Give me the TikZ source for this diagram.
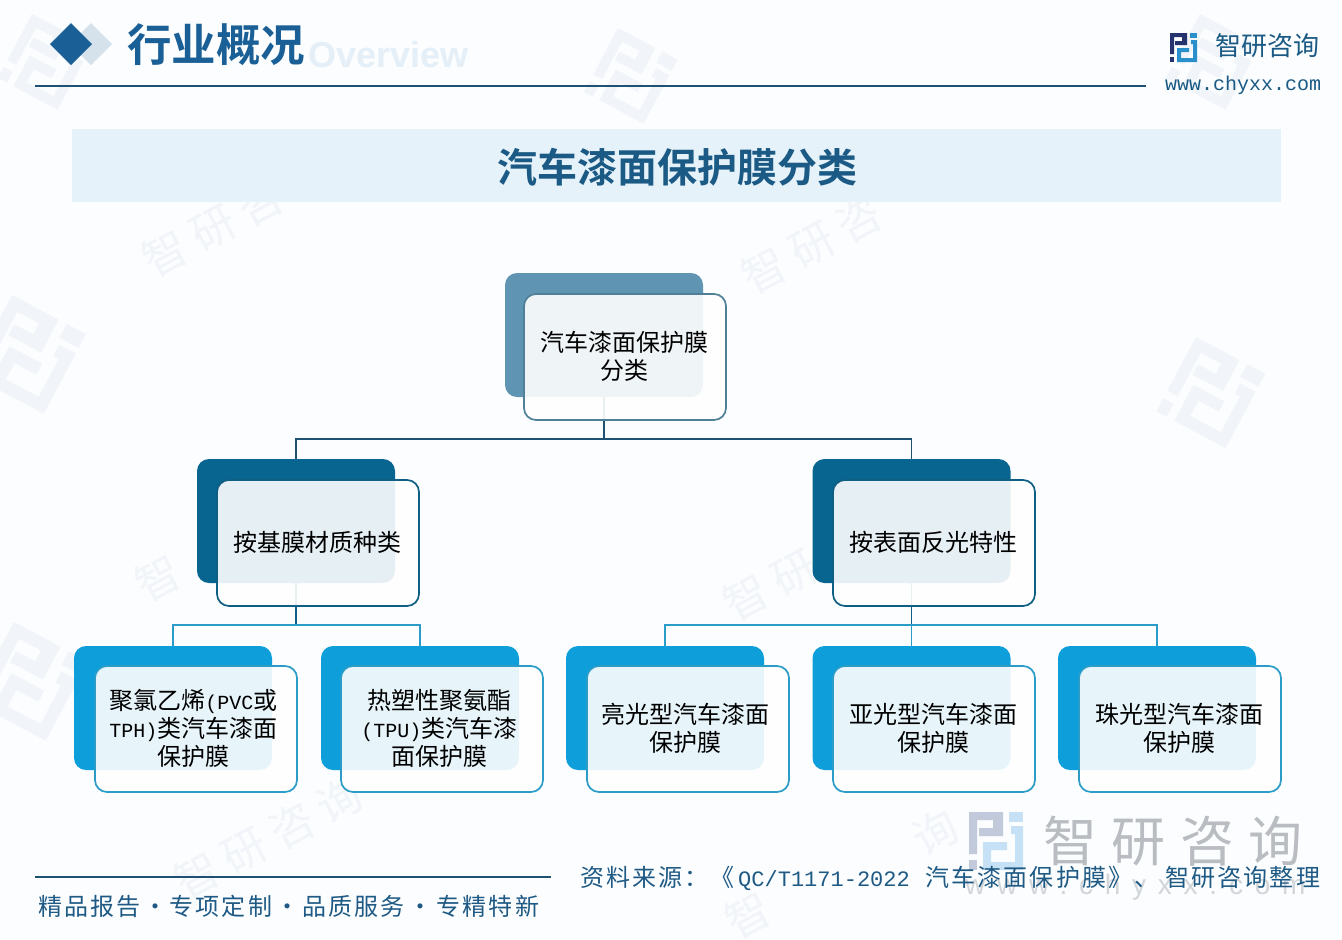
\documentclass[tikz,border=0pt]{standalone}
\usepackage{fontspec}
\setmainfont{Noto Sans CJK SC}
\newfontfamily\cjkbold[BoldFont={Noto Sans CJK SC Bold}]{Noto Sans CJK SC}
\newfontfamily\cjkspaced[LetterSpace=9]{Noto Sans CJK SC}
\newfontfamily\cjkslogan[LetterSpace=9]{Noto Sans CJK SC}
\newfontfamily\cjkwide[LetterSpace=27]{Noto Sans CJK SC}
\newfontfamily\cjkwm[LetterSpace=22]{Noto Sans CJK SC}
\newfontfamily\monofont{Liberation Mono}
\newfontfamily\urlwide[LetterSpace=42]{Liberation Sans}
\newfontfamily\ovfont{Liberation Sans}
\newcommand{\lat}[1]{{\monofont\fontsize{20pt}{28pt}\selectfont #1}}
\definecolor{bgc}{HTML}{FBFDFE}
\definecolor{wm}{HTML}{F1F4F8}
\definecolor{band}{HTML}{E6F2FA}
\definecolor{ovc}{HTML}{E4EFF8}
\definecolor{linec}{HTML}{1F5272}
\definecolor{titlec}{HTML}{1A6096}
\definecolor{heading}{HTML}{1A5A84}
\definecolor{rootback}{HTML}{5F94B3}
\definecolor{rootline}{HTML}{4F8098}
\definecolor{midback}{HTML}{07658F}
\definecolor{midline}{HTML}{0F5F85}
\definecolor{leafback}{HTML}{0E9FDA}
\definecolor{leafline}{HTML}{2A9CC7}
\definecolor{foot}{HTML}{1F5A85}
\definecolor{logodark}{HTML}{26336E}
\definecolor{logoblue}{HTML}{2A8FCB}
\definecolor{bigdark}{HTML}{C2C9DA}
\definecolor{bigblue}{HTML}{C6E0F5}
\definecolor{bigtext}{HTML}{B9BDC2}
\definecolor{urlgrey}{HTML}{D2D6DA}
\definecolor{diamondlight}{HTML}{D5E1EB}
\tikzset{
 x=1pt,y=-1pt,
 backbox/.style={minimum width=198pt,minimum height=124pt,rounded corners=12pt,inner sep=0pt},
 frontbox/.style={minimum width=202pt,minimum height=126pt,rounded corners=12pt,fill=white,fill opacity=.9,line width=1.7pt,inner sep=0pt},
 boxtext/.style={align=center,inner sep=0pt,font=\fontsize{24pt}{28pt}\selectfont,text=black},
 conn/.style={line width=1.5pt},
 wmark/.style={text=wm,font=\cjkwm\fontsize{44pt}{44pt}\selectfont,rotate=28,inner sep=0pt},
}
\newcommand{\logodarkpart}[5]{%
 \begin{scope}[shift={(#1,#2)},scale=#3,rotate=#4]
 \fill[#5] (0,0) -- (17,0) -- (17,12) -- (5,12) -- (5,8) -- (12,8) -- (12,4) -- (4,4) -- (4,21) -- (0,21) -- cycle;
 \fill[#5] (0,24) rectangle (4,29);
 \end{scope}}
\newcommand{\logobluepart}[5]{%
 \begin{scope}[shift={(#1,#2)},scale=#3,rotate=#4]
 \fill[#5] (20,0) rectangle (27,5);
 \fill[#5] (21,7) -- (27,7) -- (27,29) -- (7,29) -- (7,15) -- (19,15) -- (19,19) -- (11,19) -- (11,25) -- (23,25) -- (23,11) -- (21,11) -- cycle;
 \end{scope}}
\newcommand{\wmlogo}[3]{\logodarkpart{#1}{#2}{#3}{-28}{wm}\logobluepart{#1}{#2}{#3}{-28}{wm}}
\begin{document}
\begin{tikzpicture}
\useasboundingbox (0,0) rectangle (1342,940);
\fill[bgc] (0,0) rectangle (1342,940);
% watermarks
\node[wmark] (w1) at (213,228) {智研咨};
\node[wmark] (w2) at (812,245) {智研咨};
\node[wmark] (w3) at (158,578) {智};
\node[wmark] (w4) at (770,585) {智研};
\node[wmark] (w5) at (268,838) {智研咨询};
\node[wmark] (w6) at (935,832) {询};
\node[wmark] (w7) at (748,915) {智};
\wmlogo{12}{295}{3.1}
\wmlogo{14}{622}{3.1}
\wmlogo{1196}{337}{2.9}
\wmlogo{618}{28}{2.5}
\wmlogo{32}{14}{2.5}
\wmlogo{1200}{14}{2.5}
% header
\fill[diamondlight] (91,23) -- (112,44) -- (91,65) -- (70,44) -- cycle;
\fill[titlec] (71,23) -- (92,44) -- (71,65) -- (50,44) -- cycle;
\node[text=ovc,font=\ovfont\bfseries\fontsize{36pt}{36pt}\selectfont,anchor=west,inner sep=0pt] (ov) at (308,55) {Overview};
\node[text=titlec,font=\cjkbold\bfseries\fontsize{44.5pt}{44pt}\selectfont,anchor=west,inner sep=0pt] (htitle) at (127,45) {行业概况};
\coordinate (hl) at (35,86); \coordinate (hr) at (1146,86);
\draw[linec,line width=1.5pt] (hl) -- (hr);
\logodarkpart{1170}{33}{1}{0}{logodark}
\logobluepart{1170}{33}{1}{0}{logoblue}
\node[text=heading,font=\fontsize{26pt}{26pt}\selectfont,anchor=west,inner sep=0pt] (brand) at (1215,46) {智研咨询};
\node[text=heading,font=\monofont\fontsize{20pt}{20pt}\selectfont,anchor=west,inner sep=0pt] (web) at (1165,85) {www.chyxx.com};
% band
\node[fill=band,minimum width=1209pt,minimum height=73pt,inner sep=0pt] (bandbox) at (676.5,165) {};
\node[inner sep=0pt,text=heading,font=\cjkbold\bfseries\fontsize{40pt}{40pt}\selectfont] (bandtext) at (677.5,167) {汽车漆面保护膜分类};
% back boxes
\node[backbox,fill=rootback] (rb) at (604,335) {};
\node[backbox,fill=midback] (mlb) at (296,521) {};
\node[backbox,fill=midback] (mrb) at (911.5,521) {};
\node[backbox,fill=leafback] (l1b) at (173,708) {};
\node[backbox,fill=leafback] (l2b) at (420,708) {};
\node[backbox,fill=leafback] (l3b) at (665,708) {};
\node[backbox,fill=leafback] (l4b) at (911.5,708) {};
\node[backbox,fill=leafback] (l5b) at (1157,708) {};
% connectors
\coordinate (t1) at (604,439);
\coordinate (t2) at (296,625);
\coordinate (t3) at (911.5,625);
\draw[conn,linec] (rb.south) -- (t1);
\draw[conn,linec] (mlb.north) |- (t1) -| (mrb.north);
\draw[conn,midline] (mlb.south) -- (t2);
\draw[conn,midline] (mrb.south) -- (t3);
\draw[conn,leafline] (l1b.north) |- (t2) -| (l2b.north);
\draw[conn,leafline] (l3b.north) |- (t3) -| (l5b.north);
\draw[conn,leafline] (t3) -- (l4b.north);
% front boxes
\node[frontbox,draw=rootline] (root) at (625,357) {};
\node[frontbox,draw=midline] (ml) at (318,543) {};
\node[frontbox,draw=midline] (mr) at (934,543) {};
\node[frontbox,draw=leafline] (l1) at (196,729) {};
\node[frontbox,draw=leafline] (l2) at (442,729) {};
\node[frontbox,draw=leafline] (l3) at (688,729) {};
\node[frontbox,draw=leafline] (l4) at (934,729) {};
\node[frontbox,draw=leafline] (l5) at (1180,729) {};
% box texts
\node[boxtext] (roott) at (624.5,356) {汽车漆面保护膜\\分类};
\node[boxtext] (mlt) at (317,542) {按基膜材质种类};
\node[boxtext] (mrt) at (933,542) {按表面反光特性};
\node[boxtext] (l1t) at (193.5,728) {聚氯乙烯\lat{(PVC}或\\\lat{TPH)}类汽车漆面\\保护膜};
\node[boxtext] (l2t) at (439.5,728) {热塑性聚氨酯\\\lat{(TPU)}类汽车漆\\面保护膜};
\node[boxtext] (l3t) at (685.5,728) {亮光型汽车漆面\\保护膜};
\node[boxtext] (l4t) at (933,728) {亚光型汽车漆面\\保护膜};
\node[boxtext] (l5t) at (1179,728) {珠光型汽车漆面\\保护膜};
% footer
\logodarkpart{969}{812}{2}{0}{bigdark}
\logobluepart{969}{812}{2}{0}{bigblue}
\node[text=bigtext,font=\cjkwide\fontsize{54pt}{54pt}\selectfont,anchor=west,inner sep=0pt] (bigbrand) at (1043,841) {智研咨询};
\node[text=urlgrey,font=\urlwide\fontsize{28pt}{28pt}\selectfont,anchor=west,inner sep=0pt] (bigurl) at (965,887) {www.chyxx.com};
\coordinate (fl) at (35,877); \coordinate (fr) at (551,877);
\draw[linec,line width=1.5pt] (fl) -- (fr);
\node[text=foot,font=\cjkslogan\fontsize{24pt}{24pt}\selectfont,anchor=west,inner sep=0pt] (slogan) at (38,906) {精品报告\makebox[29pt]{·}专项定制\makebox[30pt]{·}品质服务\makebox[32pt]{·}专精特新};
\node[text=foot,font=\cjkspaced\fontsize{24pt}{24pt}\selectfont,anchor=west,inner sep=0pt] (src) at (580,878) {\makebox[158pt][l]{资料来源：《}\makebox[187pt][l]{{\monofont\fontsize{22pt}{24pt}\selectfont QC/T1171-2022}}\makebox[240pt][l]{汽车漆面保护膜》、}智研咨询整理};
\end{tikzpicture}
\end{document}
